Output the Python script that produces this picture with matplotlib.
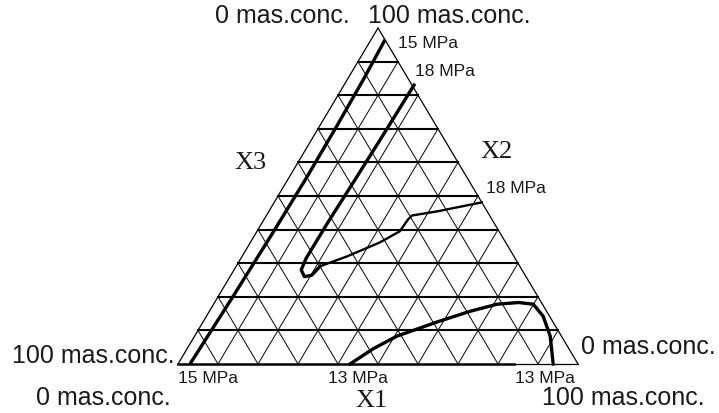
import numpy as np
import matplotlib.pyplot as plt

# isobars in ternary composition, percent (X1, X2); X3 = 100 - X1 - X2
iso15_x1 = [3.5, 4.0, 4.3, 4.4, 4.2, 3.7, 3.0]
iso15_x2 = [96.5, 85, 70, 55, 40, 20, 0]

iso18_left_x1 = [17.5, 17.2, 16.8, 16.4, 16.3, 16.8, 18.6, 20.2, 21.0]
iso18_left_x2 = [83.0, 68.0, 54.0, 42.0, 31.5, 28.0, 26.0, 26.4, 29.1]
iso18_right_x1 = [21.0, 26.2, 32.4, 35.7, 36.0, 36.4, 42.0, 51.9]
iso18_right_x2 = [29.1, 32.0, 36.2, 39.5, 43.0, 44.2, 45.4, 48.1]

iso13_x1 = [43.0, 46.5, 50.6, 58.5, 65.2, 70.9, 76.0, 79.9, 84.2, 88.9, 93.8]
iso13_x2 = [0.0, 4.5, 8.3, 12.5, 15.7, 17.8, 18.3, 17.8, 14.2, 8.3, 0.0]

n_div = 10


def tern(x1, x2):
    x1 = np.asarray(x1, float) / 100
    x2 = np.asarray(x2, float) / 100
    return x1 + x2 / 2, x2


fig = plt.figure(figsize=(7.19, 4.14), dpi=100)
ax = fig.add_axes([178 / 719, 49 / 414, 400 / 719, 336 / 414])
ax.set_xlim(0, 1)
ax.set_ylim(0, 1)
ax.axis('off')

# grid
for k in range(1, n_div):
    f = 100 * k / n_div
    ax.plot(*tern([0, 100 - f], [f, f]), color='black', lw=1.5, clip_on=False)
    ax.plot(*tern([f, f], [0, 100 - f]), color='black', lw=0.7, clip_on=False)
    ax.plot(*tern([100 - f, 0], [0, 100 - f]), color='black', lw=0.7, clip_on=False)

# frame
ax.plot(*tern([0, 0], [0, 100]), color='black', lw=0.9, clip_on=False)
ax.plot(*tern([100, 0], [0, 100]), color='black', lw=0.9, clip_on=False)
ax.plot(*tern([0, 84], [0, 0]), color='black', lw=1.8, clip_on=False)
ax.plot(*tern([84, 100], [0, 0]), color='black', lw=0.9, clip_on=False)

# isobars
ax.plot(*tern(iso15_x1, iso15_x2), color='black', lw=2.4, clip_on=False, solid_capstyle='butt')
ax.plot(*tern(iso18_left_x1, iso18_left_x2), color='black', lw=2.4, clip_on=False, solid_joinstyle='round')
ax.plot(*tern(iso18_right_x1, iso18_right_x2), color='black', lw=1.7, clip_on=False, solid_joinstyle='round')
ax.plot(*tern(iso13_x1, iso13_x2), color='black', lw=2.4, clip_on=False, solid_joinstyle='round')

sans = dict(family='Liberation Sans', color='#1a1a1a')
big = 18
small = 12.5


def pos(px, py):
    return (px - 178) / 400, (365 - py) / 336


ax.text(*pos(350, 16), '0 mas.conc.', ha='right', va='center', fontsize=big, **sans)
ax.text(*pos(368, 16), '100 mas.conc.', ha='left', va='center', fontsize=big, **sans)
ax.text(*pos(175, 356), '100 mas.conc.', ha='right', va='center', fontsize=big, **sans)
ax.text(*pos(581, 347), '0 mas.conc.', ha='left', va='center', fontsize=big, **sans)
ax.text(*pos(103, 398), '0 mas.conc.', ha='center', va='center', fontsize=big, **sans)
ax.text(*pos(623, 398), '100 mas.conc.', ha='center', va='center', fontsize=big, **sans)

serif = dict(family='Liberation Serif', color='#1a1a1a', fontsize=19, ha='center', va='center')
ax.text(*pos(372, 401), 'X1', **serif)
ax.text(*pos(497, 152), 'X2', **serif)
ax.text(*pos(250, 163), 'X3', **serif)

ax.text(*pos(398, 44), '15 MPa', ha='left', va='center', fontsize=small, **sans)
ax.text(*pos(415, 71), '18 MPa', ha='left', va='center', fontsize=small, **sans)
ax.text(*pos(486, 189), '18 MPa', ha='left', va='center', fontsize=small, **sans)
ax.text(*pos(178, 379), '15 MPa', ha='left', va='center', fontsize=small, **sans)
ax.text(*pos(358, 379), '13 MPa', ha='center', va='center', fontsize=small, **sans)
ax.text(*pos(545, 379), '13 MPa', ha='center', va='center', fontsize=small, **sans)

fig.savefig('out.png', dpi=100)
